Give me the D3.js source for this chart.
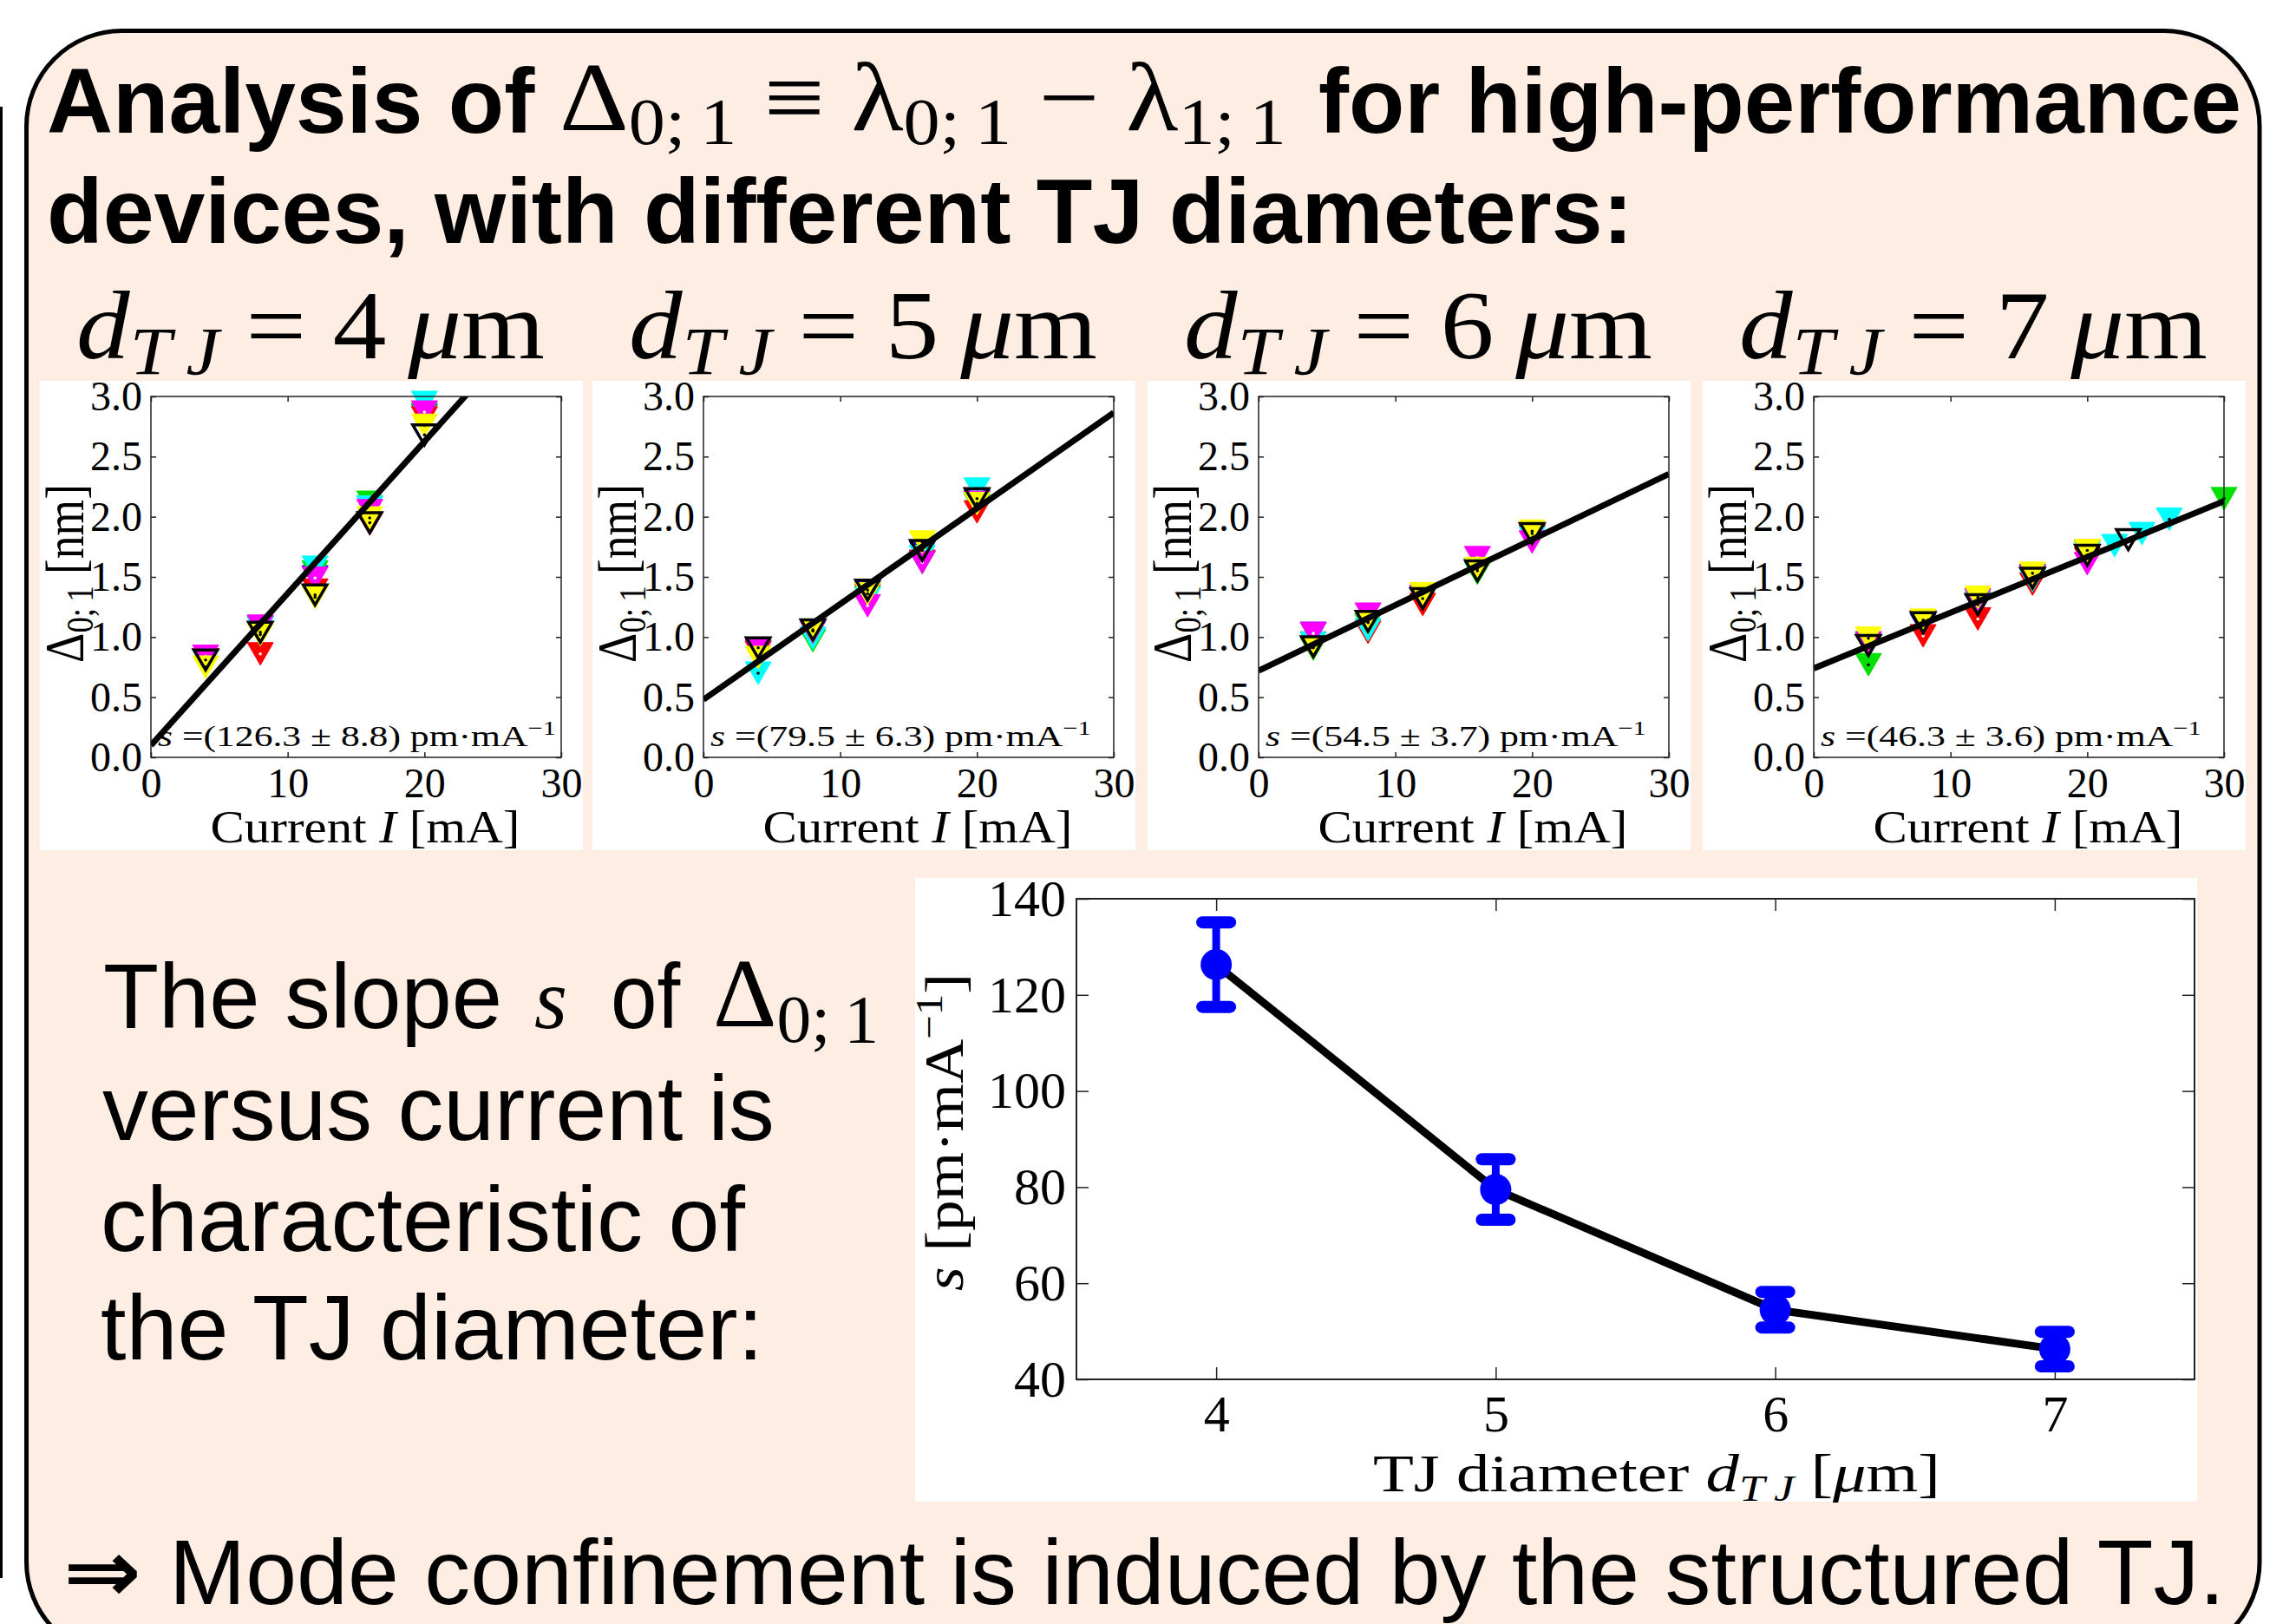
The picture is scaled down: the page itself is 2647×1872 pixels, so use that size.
<!DOCTYPE html>
<html><head><meta charset="utf-8">
<script src="https://cdnjs.cloudflare.com/ajax/libs/d3/7.8.5/d3.min.js"></script>
<style>
body{margin:0;background:#fff;}
svg{display:block;}
.ax .domain{display:none;}
.ax .tick line{stroke:#222;stroke-width:1.5;}
.ax .tick text{fill:#000;}
</style></head><body>
<svg id="c" width="2647" height="1872"></svg>
<script>
// ---------------- DATA ----------------
const currents = [4, 8, 12, 16, 20];                 // mA
const seriesColors = ["#0000ff", "#00e000", "#ff0000", "#00ffff", "#ff00ff", "#ffff00", "#000000"];
const dotColors = ["#ffffff", "#000000", "#ffffff", "#000000", "#ffffff", "#000000", "#000000"];
const diameters = [4, 5, 6, 7];                       // µm
// Δ0;1 [nm] per series (b, g, r, c, m, y, k) at the currents above
const delta4 = [
  [0.80, 1.08, 1.50, 2.08, 2.84],
  [0.81, 1.08, 1.54, 2.12, 2.85],
  [0.81, 0.86, 1.39, 1.94, 2.82],
  [0.80, 1.07, 1.58, 2.08, 2.95],
  [0.84, 1.09, 1.49, 2.05, 2.87],
  [0.75, 1.02, 1.33, 1.99, 2.76],
  [0.81, 1.04, 1.35, 1.95, 2.68]
];
const delta5 = [
  [0.88, 1.05, 1.37, 1.70, 2.13],
  [0.88, 0.97, 1.33, 1.62, 2.10],
  [0.87, 1.05, 1.35, 1.63, 2.04],
  [0.70, 0.99, 1.32, 1.67, 2.23],
  [0.89, 1.04, 1.26, 1.62, 2.12],
  [0.83, 1.05, 1.36, 1.79, 2.11],
  [0.91, 1.06, 1.39, 1.72, 2.15]
];
const delta6 = [
  [1.03, 1.10, 1.33, 1.56, 1.84],
  [0.90, 1.10, 1.32, 1.53, 1.84],
  [0.95, 1.04, 1.27, 1.55, 1.84],
  [0.95, 1.06, 1.32, 1.56, 1.82],
  [1.03, 1.19, 1.34, 1.66, 1.79],
  [0.91, 1.12, 1.36, 1.57, 1.88],
  [0.92, 1.13, 1.32, 1.55, 1.86]
];
const delta7 = [
  [0.93, 1.10, 1.26, 1.51, 1.67],
  [0.77, 1.12, 1.28, 1.48, 1.71],
  [0.95, 1.01, 1.15, 1.44, 1.65],
  [0.95, 1.12, 1.30, 1.47, 1.68],
  [0.95, 1.13, 1.31, 1.50, 1.61],
  [0.99, 1.14, 1.33, 1.53, 1.72],
  [0.93, 1.12, 1.27, 1.49, 1.68]
];
// extra points of the 7 µm device
const extraCurrents7 = [22, 24, 26, 30, 23];
const extraValues7   = [1.76, 1.86, 1.98, 2.15, 1.81];
const extraSeries7   = [3, 3, 3, 1, 6];
// fit results
const slopes      = [126.3, 79.5, 54.5, 46.3];   // pm/mA
const slopeErrors = [8.8, 6.3, 3.7, 3.6];
const intercepts  = [0.10, 0.48, 0.72, 0.74];    // nm
// ticks
const currentTicks  = [0, 10, 20, 30];
const deltaTicks    = [0, 0.5, 1.0, 1.5, 2.0, 2.5, 3.0];
const slopeTicks    = [40, 60, 80, 100, 120, 140];
const diameterTicks = [4, 5, 6, 7];

// ---------------- HELPERS ----------------
const SANS = "'Liberation Sans', Arial, Helvetica, sans-serif";
const SERIF = "'Liberation Serif', 'Times New Roman', 'DejaVu Serif', serif";
const svg = d3.select("#c");
const defs = svg.append("defs");

function rich(parent, parts, base) {
  const g = parent.append("g");
  const t = g.append("text").attr("x", 0).attr("y", 0).attr("fill", "#000");
  let cur = 0;
  parts.forEach(p => {
    const ts = t.append("tspan").text(p.t)
      .attr("font-family", p.f || SERIF)
      .attr("font-size", p.s || base)
      .attr("font-style", p.i ? "italic" : "normal")
      .attr("font-weight", p.b ? "bold" : "normal");
    const sh = p.sh || 0;
    if (sh !== cur) { ts.attr("dy", sh - cur); cur = sh; }
  });
  return g;
}
function place(g, left, base, width) {
  const bb = g.node().getBBox();
  const k = width ? width / bb.width : 1;
  g.attr("transform", `translate(${left},${base}) scale(${k},1) translate(${-bb.x},0)`);
}
function placeCenter(g, cx, base, width) {
  const bb = g.node().getBBox();
  const k = width ? width / bb.width : 1;
  g.attr("transform", `translate(${cx},${base}) scale(${k},1) translate(${-(bb.x + bb.width / 2)},0)`);
}
function placeRot(g, bx, cy, width) {
  const bb = g.node().getBBox();
  const k = width ? width / bb.width : 1;
  g.attr("transform", `translate(${bx},${cy}) rotate(-90) scale(${k},1) translate(${-(bb.x + bb.width / 2)},0)`);
}
function styleAxis(sel, size) {
  sel.attr("font-family", SERIF).attr("font-size", size).classed("ax", true);
}

// ---------------- FRAME ----------------
svg.append("rect").attr("x", 0).attr("y", 123).attr("width", 3).attr("height", 1696).attr("fill", "#000");
svg.append("rect").attr("x", 30.5).attr("y", 35.5).attr("width", 2574.5).attr("height", 1875)
  .attr("rx", 110).attr("ry", 110).attr("fill", "#fdede2").attr("stroke", "#000").attr("stroke-width", 5);

// ---------------- TITLE ----------------
place(rich(svg, [{t: "Analysis of", f: SANS, b: 1}], 106), 54, 153, 563);
place(rich(svg, [
  {t: "Δ"}, {t: "0;\u20091", s: 76, sh: 16},
  {t: " ≡ "}, {t: "λ"}, {t: "0;\u20091", s: 76, sh: 16},
  {t: " − "}, {t: "λ"}, {t: "1;\u20091", s: 76, sh: 16}
], 112), 645, 150, 838);
place(rich(svg, [{t: "for high-performance", f: SANS, b: 1}], 106), 1520, 153, 1064);
place(rich(svg, [{t: "devices, with different TJ diameters:", f: SANS, b: 1}], 106), 54, 280, 1829);

// ---------------- SMALL CHARTS ----------------
const smallLefts = [174, 811, 1451, 2091];
const allDelta = [delta4, delta5, delta6, delta7];

function tri(x, y, hw, hh) {
  return `M${x - hw},${y - hh}L${x + hw},${y - hh}L${x},${y + hh}Z`;
}

diameters.forEach((dia, i) => {
  const x0 = smallLefts[i], W = 473, top = 457, bot = 873;
  const g = svg.append("g");
  g.append("rect").attr("x", x0 - 128).attr("y", 439).attr("width", W + 153).attr("height", 541).attr("fill", "#fff");

  // panel title
  place(rich(svg, [
    {t: "d", i: 1}, {t: "T\u2009J", i: 1, s: 78, sh: 18},
    {t: " = " + dia + "\u2009"}, {t: "μ", i: 1}, {t: "m"}
  ], 112), x0 - 86, 413, 540);

  const x = d3.scaleLinear().domain([0, 30]).range([x0, x0 + W]);
  const y = d3.scaleLinear().domain([0, 3]).range([bot, top]);

  g.append("g").attr("transform", `translate(${x0},0)`)
    .call(d3.axisLeft(y).tickValues(deltaTicks).tickFormat(d3.format(".1f")).tickSize(-6).tickSizeOuter(0).tickPadding(10))
    .call(s => styleAxis(s, 48));
  g.append("g").attr("transform", `translate(${x0 + W},0)`)
    .call(d3.axisRight(y).tickValues(deltaTicks).tickFormat("").tickSize(-6).tickSizeOuter(0))
    .call(s => styleAxis(s, 48));
  g.append("g").attr("transform", `translate(0,${bot})`)
    .call(d3.axisBottom(x).tickValues(currentTicks).tickFormat(d3.format("d")).tickSize(-6).tickSizeOuter(0).tickPadding(12))
    .call(s => styleAxis(s, 48));
  g.append("g").attr("transform", `translate(0,${top})`)
    .call(d3.axisTop(x).tickValues(currentTicks).tickFormat("").tickSize(-6).tickSizeOuter(0))
    .call(s => styleAxis(s, 48));

  // markers
  const data = allDelta[i];
  const pts = [];
  data.forEach((vals, j) => vals.forEach((v, k) => pts.push({c: currents[k], v, j})));
  if (i === 3) extraCurrents7.forEach((c, k) => pts.push({c, v: extraValues7[k], j: extraSeries7[k]}));
  const filled = pts.filter(p => p.j !== 6);
  const blacks = pts.filter(p => p.j === 6);
  filled.sort((a, b) => a.j - b.j);
  const mk = g.append("g");
  filled.forEach(p => {
    const px = x(p.c), py = y(p.v);
    mk.append("path").attr("d", tri(px, py, 15, 13)).attr("fill", seriesColors[p.j])
      .attr("stroke", seriesColors[p.j]).attr("stroke-width", 1);
    mk.append("circle").attr("cx", px).attr("cy", py).attr("r", 1.8).attr("fill", dotColors[p.j]);
  });
  blacks.forEach(p => {
    const px = x(p.c), py = y(p.v);
    mk.append("path").attr("d", tri(px, py, 13.5, 11.5)).attr("fill", "none")
      .attr("stroke", "#000").attr("stroke-width", 3.5).attr("stroke-linejoin", "miter");
    mk.append("circle").attr("cx", px).attr("cy", py).attr("r", 1.8).attr("fill", "#000");
  });

  // fit line
  const cid = "clipS" + i;
  defs.append("clipPath").attr("id", cid).append("rect").attr("x", x0).attr("y", top).attr("width", W).attr("height", bot - top);
  const fit = I => intercepts[i] + slopes[i] / 1000 * I;
  g.append("line").attr("x1", x(0)).attr("y1", y(fit(0))).attr("x2", x(30)).attr("y2", y(fit(30)))
    .attr("stroke", "#000").attr("stroke-width", 7).attr("clip-path", `url(#${cid})`);

  // annotation
  const annW = i === 0 ? 459 : 439;
  place(rich(g, [
    {t: "s", i: 1},
    {t: " =(" + slopes[i].toFixed(1) + " ± " + slopeErrors[i].toFixed(1) + ") pm·mA"},
    {t: "−1", s: 23, sh: -13}
  ], 33), x0 + 8, 860, annW);

  // frame
  g.append("rect").attr("x", x0).attr("y", top).attr("width", W).attr("height", bot - top)
    .attr("fill", "none").attr("stroke", "#222").attr("stroke-width", 1.5);

  // axis labels
  placeCenter(rich(g, [{t: "Current "}, {t: "I", i: 1}, {t: " [mA]"}], 52), x0 + 247, 971, 357);
  placeRot(rich(g, [{t: "Δ"}, {t: "0;\u20091", s: 44, sh: 11}, {t: " [nm]"}], 64), x0 - 78, 661, 206);
});

// ---------------- LEFT TEXT ----------------
place(rich(svg, [{t: "The slope", f: SANS}], 105), 119, 1185, 460);
place(rich(svg, [{t: "s", i: 1}], 100), 616, 1185, 38);
place(rich(svg, [{t: "of", f: SANS}], 105), 704, 1185, 81);
place(rich(svg, [{t: "Δ"}, {t: "0;\u20091", s: 78, sh: 18}], 112), 822, 1183, 191);
place(rich(svg, [{t: "versus current is", f: SANS}], 105), 118, 1314, 775);
place(rich(svg, [{t: "characteristic of", f: SANS}], 105), 116, 1442, 744);
place(rich(svg, [{t: "the TJ diameter:", f: SANS}], 105), 116, 1567, 764);

// ---------------- BOTTOM CHART ----------------
(function () {
  const L = 1241, R = 2530, T = 1036, B = 1590;
  const g = svg.append("g");
  g.append("rect").attr("x", 1055).attr("y", 1012).attr("width", 1478).attr("height", 719).attr("fill", "#fff");
  const x = d3.scaleLinear().domain([3.5, 7.5]).range([L, R]);
  const y = d3.scaleLinear().domain([40, 140]).range([B, T]);

  g.append("g").attr("transform", `translate(${L},0)`)
    .call(d3.axisLeft(y).tickValues(slopeTicks).tickSize(-14).tickSizeOuter(0).tickPadding(12))
    .call(s => styleAxis(s, 60));
  g.append("g").attr("transform", `translate(${R},0)`)
    .call(d3.axisRight(y).tickValues(slopeTicks).tickFormat("").tickSize(-14).tickSizeOuter(0))
    .call(s => styleAxis(s, 60));
  g.append("g").attr("transform", `translate(0,${B})`)
    .call(d3.axisBottom(x).tickValues(diameterTicks).tickFormat(d3.format("d")).tickSize(-14).tickSizeOuter(0).tickPadding(17))
    .call(s => styleAxis(s, 60));
  g.append("g").attr("transform", `translate(0,${T})`)
    .call(d3.axisTop(x).tickValues(diameterTicks).tickFormat("").tickSize(-14).tickSizeOuter(0))
    .call(s => styleAxis(s, 60));

  const pts = diameters.map((d, i) => ({d, s: slopes[i], e: slopeErrors[i]}));
  g.append("path").datum(pts)
    .attr("d", d3.line().x(p => x(p.d)).y(p => y(p.s)))
    .attr("fill", "none").attr("stroke", "#000").attr("stroke-width", 9).attr("stroke-linejoin", "round");
  const eb = g.append("g");
  pts.forEach(p => {
    const cx = x(p.d);
    eb.append("line").attr("x1", cx).attr("x2", cx).attr("y1", y(p.s - p.e)).attr("y2", y(p.s + p.e))
      .attr("stroke", "#0000ff").attr("stroke-width", 9);
    [p.s - p.e, p.s + p.e].forEach(v => {
      eb.append("line").attr("x1", cx - 16).attr("x2", cx + 16).attr("y1", y(v)).attr("y2", y(v))
        .attr("stroke", "#0000ff").attr("stroke-width", 14).attr("stroke-linecap", "round");
    });
    eb.append("circle").attr("cx", cx).attr("cy", y(p.s)).attr("r", 18).attr("fill", "#0000ff");
  });

  g.append("rect").attr("x", L).attr("y", T).attr("width", R - L).attr("height", B - T)
    .attr("fill", "none").attr("stroke", "#222").attr("stroke-width", 2);

  place(rich(g, [{t: "TJ diameter "}, {t: "d", i: 1}, {t: "T\u2009J", i: 1, s: 42, sh: 11}, {t: " ["}, {t: "μ", i: 1}, {t: "m]"}], 61), 1583, 1719, 654);
  placeRot(rich(g, [{t: "s", i: 1}, {t: " [pm·mA"}, {t: "−1", s: 44, sh: -24}, {t: "]"}], 64), 1110, 1305, 366);
})();

// ---------------- BOTTOM LINE ----------------
place(rich(svg, [{t: "⇒", f: "'DejaVu Sans', sans-serif", b: 1}], 100), 73, 1846, 90);
place(rich(svg, [{t: "Mode confinement is induced by the structured TJ.", f: SANS}], 106), 195, 1849, 2370);
</script>
</body></html>
